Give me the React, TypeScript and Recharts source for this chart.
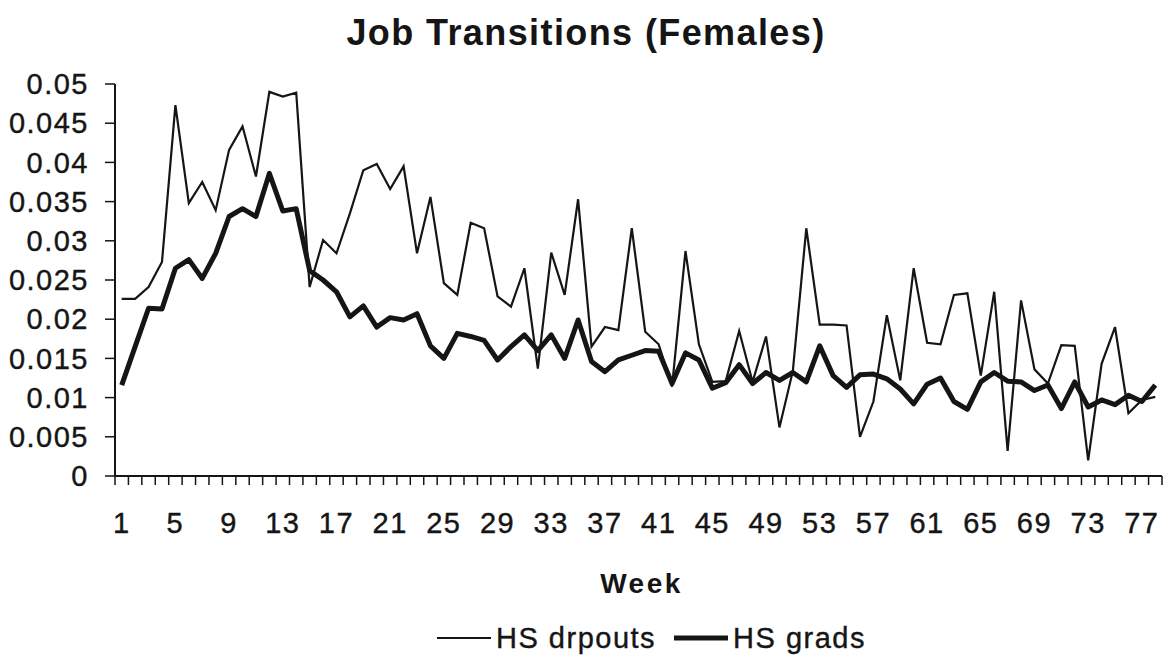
import { LineChart, Line, XAxis, YAxis, Legend } from "recharts";

const drpouts = [
  0.0226, 0.0226, 0.0241, 0.0273, 0.0473, 0.0348, 0.0375, 0.0339, 0.0416, 0.0446,
  0.0382, 0.049, 0.0484, 0.0489, 0.0241, 0.0301, 0.0284, 0.0335, 0.039, 0.0398,
  0.0366, 0.0395, 0.0284, 0.0356, 0.0246, 0.0231, 0.0323, 0.0316, 0.0229, 0.0216,
  0.0265, 0.0137, 0.0285, 0.0231, 0.0353, 0.0165, 0.019, 0.0186, 0.0316, 0.0184,
  0.0168, 0.0114, 0.0287, 0.0168, 0.012, 0.0121, 0.0185, 0.012, 0.0178, 0.0062,
  0.0134, 0.0316, 0.0193, 0.0193, 0.0192, 0.005, 0.0095, 0.0205, 0.0122, 0.0265,
  0.017, 0.0168, 0.0231, 0.0233, 0.0128, 0.0235, 0.0032, 0.0224, 0.0136, 0.0118,
  0.0167, 0.0166, 0.002, 0.0143, 0.019, 0.008, 0.0097, 0.0101,
];

const grads = [
  0.0116, 0.0165, 0.0214, 0.0213, 0.0265, 0.0276, 0.0252, 0.0284, 0.0331, 0.0341,
  0.0331, 0.0386, 0.0338, 0.0341, 0.0262, 0.025, 0.0235, 0.0203, 0.0217, 0.019,
  0.0202, 0.0199, 0.0207, 0.0166, 0.015, 0.0182, 0.0178, 0.0173, 0.0148, 0.0165,
  0.018, 0.016, 0.018, 0.015, 0.0199, 0.0146, 0.0133, 0.0148, 0.0154, 0.016,
  0.0159, 0.0118, 0.0157, 0.0148, 0.0112, 0.0119, 0.0142, 0.0118, 0.0132, 0.0122,
  0.0132, 0.012, 0.0166, 0.0128, 0.0113, 0.0129, 0.013, 0.0124, 0.0111, 0.0092,
  0.0117, 0.0125, 0.0095, 0.0085, 0.012, 0.0132, 0.0121, 0.012, 0.0109, 0.0116,
  0.0086, 0.012, 0.0088, 0.0097, 0.0091, 0.0103, 0.0095, 0.0116,
];

const weekLabels = [1, 5, 9, 13, 17, 21, 25, 29, 33, 37, 41, 45, 49, 53, 57, 61, 65, 69, 73, 77];
const yTicks = [0, 0.005, 0.01, 0.015, 0.02, 0.025, 0.03, 0.035, 0.04, 0.045, 0.05];

const weeks = drpouts.map((_, i) => i + 1);
// tick marks sit between weeks (Excel style), labels on the week itself
const weekEdges = [...weeks.map((w) => w - 0.5), weeks.length + 0.5];

const data = weeks.map((week, i) => ({ week, drpouts: drpouts[i], grads: grads[i] }));

const W = 1172;
const H = 658;
const MARGIN = { top: 84, right: 10, bottom: 2, left: 0 };
const Y_AXIS_W = 115;
const halfWeek = (W - MARGIN.right - Y_AXIS_W) / weeks.length / 2;

const FONT = '"Liberation Sans", Arial, Helvetica, sans-serif';
const INK = "#151515";
const textStyle = { fontSize: 29, fill: INK, fontFamily: FONT, letterSpacing: 1.5, stroke: INK, strokeWidth: 0.4 };

function WeekTick(props: any) {
  const week = props.payload.value + 0.5;
  if (!weekLabels.includes(week)) return <g />;
  return (
    <text x={props.x + halfWeek} y={props.y} dy="0.71em" textAnchor="middle" style={textStyle}>
      {week}
    </text>
  );
}

function LegendRow() {
  const item = (w: number, label: string, gap: number) => (
    <span style={{ display: "inline-flex", alignItems: "center", marginRight: gap }}>
      <svg width={54} height={10}>
        <line x1={0} y1={5} x2={54} y2={5} stroke={INK} strokeWidth={w} />
      </svg>
      <span style={{ marginLeft: 5 }}>{label}</span>
    </span>
  );
  return (
    <div
      style={{
        height: 36,
        display: "flex",
        alignItems: "center",
        paddingLeft: 437,
        fontFamily: FONT,
        fontSize: 29,
        letterSpacing: 1.5,
        WebkitTextStroke: "0.4px " + INK,
        color: INK,
      }}
    >
      {item(2.2, "HS drpouts", 18)}
      {item(5, "HS grads", 0)}
    </div>
  );
}

export default function App() {
  return (
    <div style={{ position: "absolute", left: 0, top: 0, width: W, height: H, background: "#fff" }}>
      <div
        style={{
          position: "absolute",
          top: 12,
          left: 0,
          width: W,
          textAlign: "center",
          fontFamily: FONT,
          fontWeight: "bold",
          fontSize: 36,
          letterSpacing: 1.4,
          color: INK,
        }}
      >
        Job Transitions (Females)
      </div>
      <LineChart width={W} height={H} data={data} margin={MARGIN}>
        <XAxis
          type="number"
          dataKey="week"
          domain={[0.5, weeks.length + 0.5]}
          ticks={weekEdges}
          interval={0}
          tick={<WeekTick />}
          tickSize={9}
          tickMargin={27}
          height={144}
          axisLine={{ stroke: INK, strokeWidth: 2 }}
          tickLine={{ stroke: INK, strokeWidth: 1.5 }}
          label={{
            value: "Week",
            position: "insideBottom",
            offset: 27,
            dx: 3,
            style: { fontSize: 28, fontWeight: "bold", fill: INK, fontFamily: FONT, letterSpacing: 2.5 },
          }}
        />
        <YAxis
          domain={[0, 0.05]}
          ticks={yTicks}
          interval={0}
          width={Y_AXIS_W}
          tickSize={10}
          tickMargin={16}
          axisLine={{ stroke: INK, strokeWidth: 2 }}
          tickLine={{ stroke: INK, strokeWidth: 1.5 }}
          tick={textStyle}
        />
        <Legend verticalAlign="bottom" content={() => <LegendRow />} wrapperStyle={{ left: 0, width: W }} />
        <Line
          type="linear"
          dataKey="drpouts"
          name="HS drpouts"
          stroke={INK}
          strokeWidth={2.2}
          dot={false}
          isAnimationActive={false}
        />
        <Line
          type="linear"
          dataKey="grads"
          name="HS grads"
          stroke={INK}
          strokeWidth={5}
          strokeLinejoin="round"
          dot={false}
          isAnimationActive={false}
        />
      </LineChart>
    </div>
  );
}
